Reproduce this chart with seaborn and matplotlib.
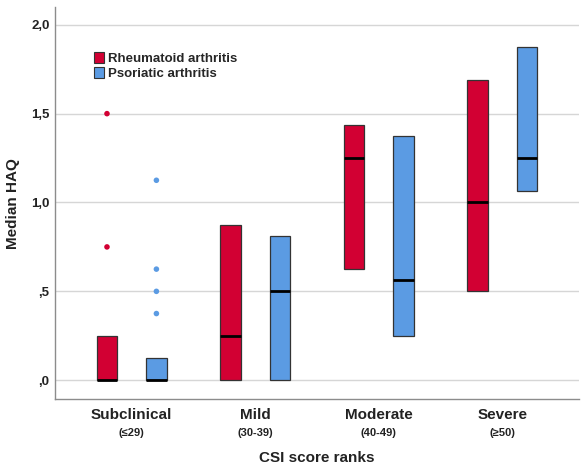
import matplotlib
matplotlib.use("Agg")
import matplotlib.pyplot as plt
import seaborn as sns
import pandas as pd
from matplotlib.patches import Patch
from matplotlib.ticker import FuncFormatter
import matplotlib.transforms as mtransforms

# data
categories = ["Subclinical", "Mild", "Moderate", "Severe"]
score_ranges = ["(≤29)", "(30-39)", "(40-49)", "(≥50)"]
groups = ["Rheumatoid arthritis", "Psoriatic arthritis"]

ra_q1 = [0.0, 0.0, 0.625, 0.5]
ra_med = [0.0, 0.25, 1.25, 1.0]
ra_q3 = [0.25, 0.875, 1.4375, 1.6875]

psa_q1 = [0.0, 0.0, 0.25, 1.0625]
psa_med = [0.0, 0.5, 0.5625, 1.25]
psa_q3 = [0.125, 0.8125, 1.375, 1.875]

outlier_cat = ["Subclinical", "Subclinical", "Subclinical", "Subclinical", "Subclinical", "Subclinical"]
outlier_group = ["Rheumatoid arthritis", "Rheumatoid arthritis",
                 "Psoriatic arthritis", "Psoriatic arthritis", "Psoriatic arthritis", "Psoriatic arthritis"]
outlier_val = [1.5, 0.75, 1.125, 0.625, 0.5, 0.375]

colors = {"Rheumatoid arthritis": "#d20033", "Psoriatic arthritis": "#5b9be3"}

sns.set_style("white")
plt.rcParams['font.family'] = ['Liberation Sans', 'DejaVu Sans']

fig = plt.figure(figsize=(5.86, 4.68), dpi=100)
ax = fig.add_axes([0.094, 0.147, 0.894, 0.838])

# boxes (no whiskers, SPSS style)
def box_stats(q1, med, q3):
    return [dict(q1=a, med=m, q3=b, whislo=a, whishi=b, fliers=[]) for a, m, b in zip(q1, med, q3)]

for stats, off, g in [(box_stats(ra_q1, ra_med, ra_q3), -0.2, groups[0]),
                      (box_stats(psa_q1, psa_med, psa_q3), 0.2, groups[1])]:
    ax.bxp(stats, positions=[i + off for i in range(len(categories))], widths=0.165,
           patch_artist=True, showcaps=False, manage_ticks=False,
           boxprops=dict(facecolor=colors[g], edgecolor='#333333', linewidth=0.9),
           whiskerprops=dict(linewidth=0),
           medianprops=dict(color='black', linewidth=2))

# outliers
out_df = pd.DataFrame({"cat": outlier_cat, "group": outlier_group, "val": outlier_val})
sns.stripplot(data=out_df, x="cat", y="val", hue="group", order=categories, hue_order=groups,
              palette=colors, dodge=True, jitter=False, size=4, linewidth=0, legend=False, ax=ax)

ax.set_xlim(-0.62, 3.62)
ax.set_ylim(-0.107, 2.1)
ax.set_yticks([0, 0.5, 1.0, 1.5, 2.0])
ax.yaxis.set_major_formatter(FuncFormatter(lambda v, p: ("%.1f" % v).replace('.', ',').lstrip('0') if v < 1 else ("%.1f" % v).replace('.', ',')))
ax.yaxis.grid(True, color='#d6d6d6', linewidth=1)
ax.set_axisbelow(True)

ax.set_xticks(range(len(categories)))
ax.set_xticklabels(categories, fontsize=11, fontweight='bold', color='#222222')
ax.tick_params(axis='x', length=0, pad=6)
ax.tick_params(axis='y', length=0, pad=4, labelsize=9.5, labelcolor='#222222')
for lab in ax.get_yticklabels():
    lab.set_fontweight('bold')

trans = mtransforms.blended_transform_factory(ax.transData, ax.transAxes)
for i, r in enumerate(score_ranges):
    ax.text(i, -0.085, r, transform=trans, ha='center', va='center', fontsize=8,
            fontweight='bold', color='#222222', family=['Liberation Sans', 'DejaVu Sans'])

ax.set_xlabel("CSI score ranks", fontsize=11, fontweight='bold', color='#222222', labelpad=21)
ax.set_ylabel("Median HAQ", fontsize=11, fontweight='bold', color='#222222', labelpad=8)

for s in ['top', 'right']:
    ax.spines[s].set_visible(False)
for s in ['left', 'bottom']:
    ax.spines[s].set_color('#8c8c8c')
    ax.spines[s].set_linewidth(1)

handles = [Patch(facecolor=colors[g], edgecolor='#333333', linewidth=0.8, label=g) for g in groups]
ax.legend(handles=handles, loc='upper left', bbox_to_anchor=(0.074, 0.885), frameon=False,
          prop={'weight': 'bold', 'size': 9.5}, handlelength=0.8, handleheight=0.9,
          handletextpad=0.3, labelspacing=0.15, borderpad=0, borderaxespad=0)

plt.savefig("out.png", dpi=100)
